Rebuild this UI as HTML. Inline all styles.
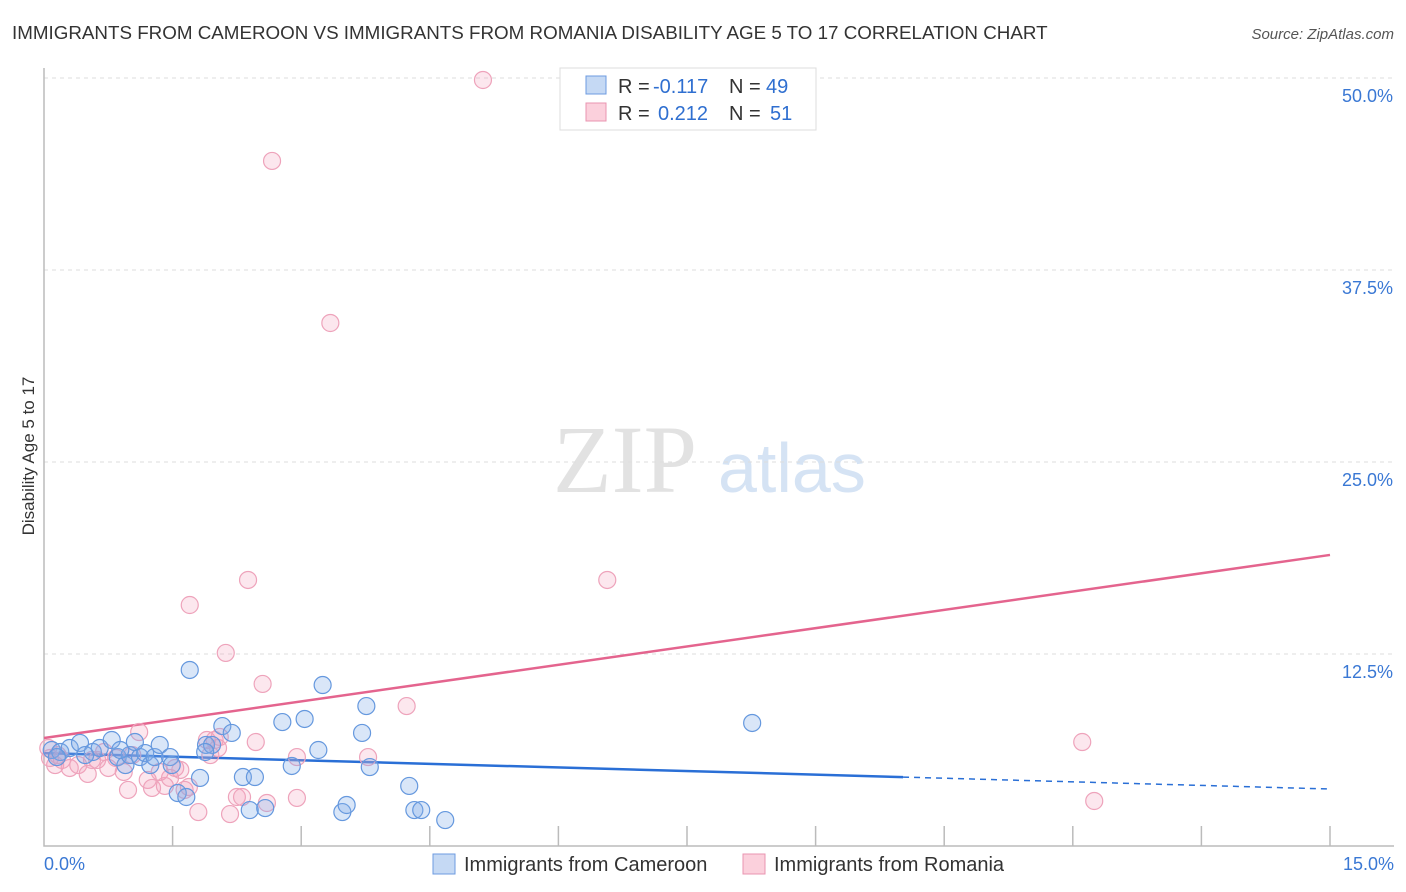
<!DOCTYPE html>
<html><head><meta charset="utf-8"><style>
body{margin:0;background:#fff;font-family:"Liberation Sans",sans-serif;}
svg{display:block}
</style></head><body>
<svg id="chart" width="1406" height="892">
<text x="12" y="39" font-size="18.8" fill="#333">IMMIGRANTS FROM CAMEROON VS IMMIGRANTS FROM ROMANIA DISABILITY AGE 5 TO 17 CORRELATION CHART</text>
<text x="1394" y="39" font-size="15" fill="#555" font-style="italic" text-anchor="end">Source: ZipAtlas.com</text>
<text x="34" y="456" font-size="17" fill="#333" text-anchor="middle" transform="rotate(-90 34 456)">Disability Age 5 to 17</text>
<g><text x="553" y="492" font-family="Liberation Serif,serif" font-size="96" fill="#e2e2e2">ZIP</text><text x="718" y="492" font-size="70" fill="#d5e3f4">atlas</text></g>
<g id="grid"></g><g id="axes"></g><g id="trends"></g><g id="pts"></g>
<g>
<rect x="560" y="68" width="256" height="62" fill="#fff" stroke="#ddd"/>
<rect x="586" y="76" width="20" height="18" fill="#c5d9f4" stroke="#6d9be0"/>
<rect x="586" y="103" width="20" height="18" fill="#fbd0dc" stroke="#ea94b0"/>
<text x="618" y="93" font-size="20" fill="#333">R = <tspan x="653" fill="#2f6fd0">-0.117</tspan><tspan x="729">N = </tspan><tspan x="766" fill="#2f6fd0">49</tspan></text>
<text x="618" y="120" font-size="20" fill="#333">R = <tspan x="658" fill="#2f6fd0">0.212</tspan><tspan x="729">N = </tspan><tspan x="770" fill="#2f6fd0">51</tspan></text>
</g>
<g>
<rect x="433" y="854" width="22" height="20" fill="#c5d9f4" stroke="#6d9be0"/>
<text x="464" y="871" font-size="20" fill="#333">Immigrants from Cameroon</text>
<rect x="743" y="854" width="22" height="20" fill="#fbd0dc" stroke="#ea94b0"/>
<text x="774" y="871" font-size="20" fill="#333">Immigrants from Romania</text>
</g>
</svg>
<script>
const blueX=[0.09,0.19,0.30,0.42,0.57,0.65,0.79,0.86,0.95,1.00,1.12,1.18,1.24,1.29,1.35,1.47,1.49,1.56,1.66,1.70,1.82,1.89,1.96,2.08,2.19,2.32,2.40,2.46,2.58,2.78,2.89,3.04,3.20,3.25,3.48,3.53,3.71,3.76,3.80,4.26,4.32,4.40,4.68,8.26,0.15,0.48,1.88,0.89,1.06];
const blueY=[6.25,6.12,6.38,6.71,6.12,6.38,6.90,5.79,5.27,5.92,5.79,6.05,5.27,5.79,6.58,5.79,5.27,3.45,3.19,11.46,4.43,6.58,6.58,7.81,7.36,4.49,2.34,4.49,2.47,8.07,5.21,8.27,6.25,10.48,2.21,2.67,7.36,9.11,5.14,3.91,2.34,2.34,1.69,8.01,5.79,5.92,6.12,6.25,6.77];
const pinkX=[5.12,2.66,3.34,2.38,6.57,1.70,2.12,2.55,4.23,1.11,12.11,12.25,0.05,0.13,0.21,0.30,0.40,0.51,0.62,0.75,0.84,0.93,0.98,1.03,1.21,1.26,1.35,1.41,1.47,1.53,1.59,1.64,1.80,1.90,1.94,1.99,2.03,2.17,2.25,2.31,2.47,2.60,2.95,2.95,3.78,0.07,0.16,0.56,0.70,1.69,2.05];
const pinkY=[49.87,44.60,34.05,17.32,17.32,15.69,12.57,10.55,9.11,7.42,6.77,2.93,6.38,5.27,5.60,5.08,5.27,4.69,5.60,5.08,5.73,4.82,3.65,5.92,4.30,3.78,4.82,3.91,4.43,5.08,4.95,3.65,2.21,6.90,5.92,6.90,6.38,2.08,3.19,3.19,6.77,2.80,5.79,3.13,5.79,5.73,5.92,5.60,6.12,3.84,7.10];
const blueTrend=[6.05,3.71]; const blueSolidEnd=10.02;
const pinkTrend=[7.03,18.95];
const yTicks=[12.5,25,37.5,50];
const xTickVals=[0,1.5,3,4.5,6,7.5,9,10.5,12,13.5,15];
const NS='http://www.w3.org/2000/svg';
const sx=v=>44+v/15*1286, sy=v=>846-v/50*768;
function mk(t,a,p){const e=document.createElementNS(NS,t);for(const k in a)e.setAttribute(k,a[k]);p.appendChild(e);return e;}
const grid=document.getElementById('grid'),axes=document.getElementById('axes');
yTicks.forEach(v=>{
 const l=mk('line',{x1:44,x2:1394,y1:sy(v),y2:sy(v),stroke:'#ddd','stroke-dasharray':'4 4'},grid);
 
 
 const t=mk('text',{x:1393,y:sy(v)+24,'font-size':18,fill:'#3a78d4','text-anchor':'end'},grid);
 t.textContent=v.toFixed(1)+'%';
 
 
});
const ax=mk('path',{d:'M44 68V846H1394',fill:'none',stroke:'#bbb','stroke-width':1.5},axes);


xTickVals.forEach((v,i)=>{if(i==0)return;
 const l=mk('line',{x1:sx(v),x2:sx(v),y1:826,y2:846,stroke:'#bbb','stroke-width':1.5},axes);
 
 
});
[[0,'0.0%',44,'start'],[15,'15.0%',1394,'end']].forEach(a=>{
 const t=mk('text',{x:a[2],y:870,'font-size':18,fill:'#3a78d4','text-anchor':a[3]},axes);
 t.textContent=a[1];
 
 
});
const tr=document.getElementById('trends');
const byAt=x=>blueTrend[0]+(blueTrend[1]-blueTrend[0])*x/15;
let l=mk('line',{x1:sx(0),y1:sy(blueTrend[0]),x2:sx(blueSolidEnd),y2:sy(byAt(blueSolidEnd)),stroke:'#2a6fd6','stroke-width':2.5},tr);


l=mk('line',{x1:sx(blueSolidEnd),y1:sy(byAt(blueSolidEnd)),x2:sx(15),y2:sy(blueTrend[1]),stroke:'#2a6fd6','stroke-width':1.5,'stroke-dasharray':'6 5'},tr);


l=mk('line',{x1:sx(0),y1:sy(pinkTrend[0]),x2:sx(15),y2:sy(pinkTrend[1]),stroke:'#e4648e','stroke-width':2.5},tr);


const pts=document.getElementById('pts');
pinkX.forEach((x,i)=>{
 const c=mk('circle',{cx:sx(x),cy:sy(pinkY[i]),r:8.5,fill:'rgba(244,160,188,0.25)',stroke:'#eea3bb','stroke-width':1.2},pts);
 
 
});
blueX.forEach((x,i)=>{
 const c=mk('circle',{cx:sx(x),cy:sy(blueY[i]),r:8.5,fill:'rgba(130,172,232,0.3)',stroke:'#6598de','stroke-width':1.2},pts);
 
 
});
</script>
</body></html>
